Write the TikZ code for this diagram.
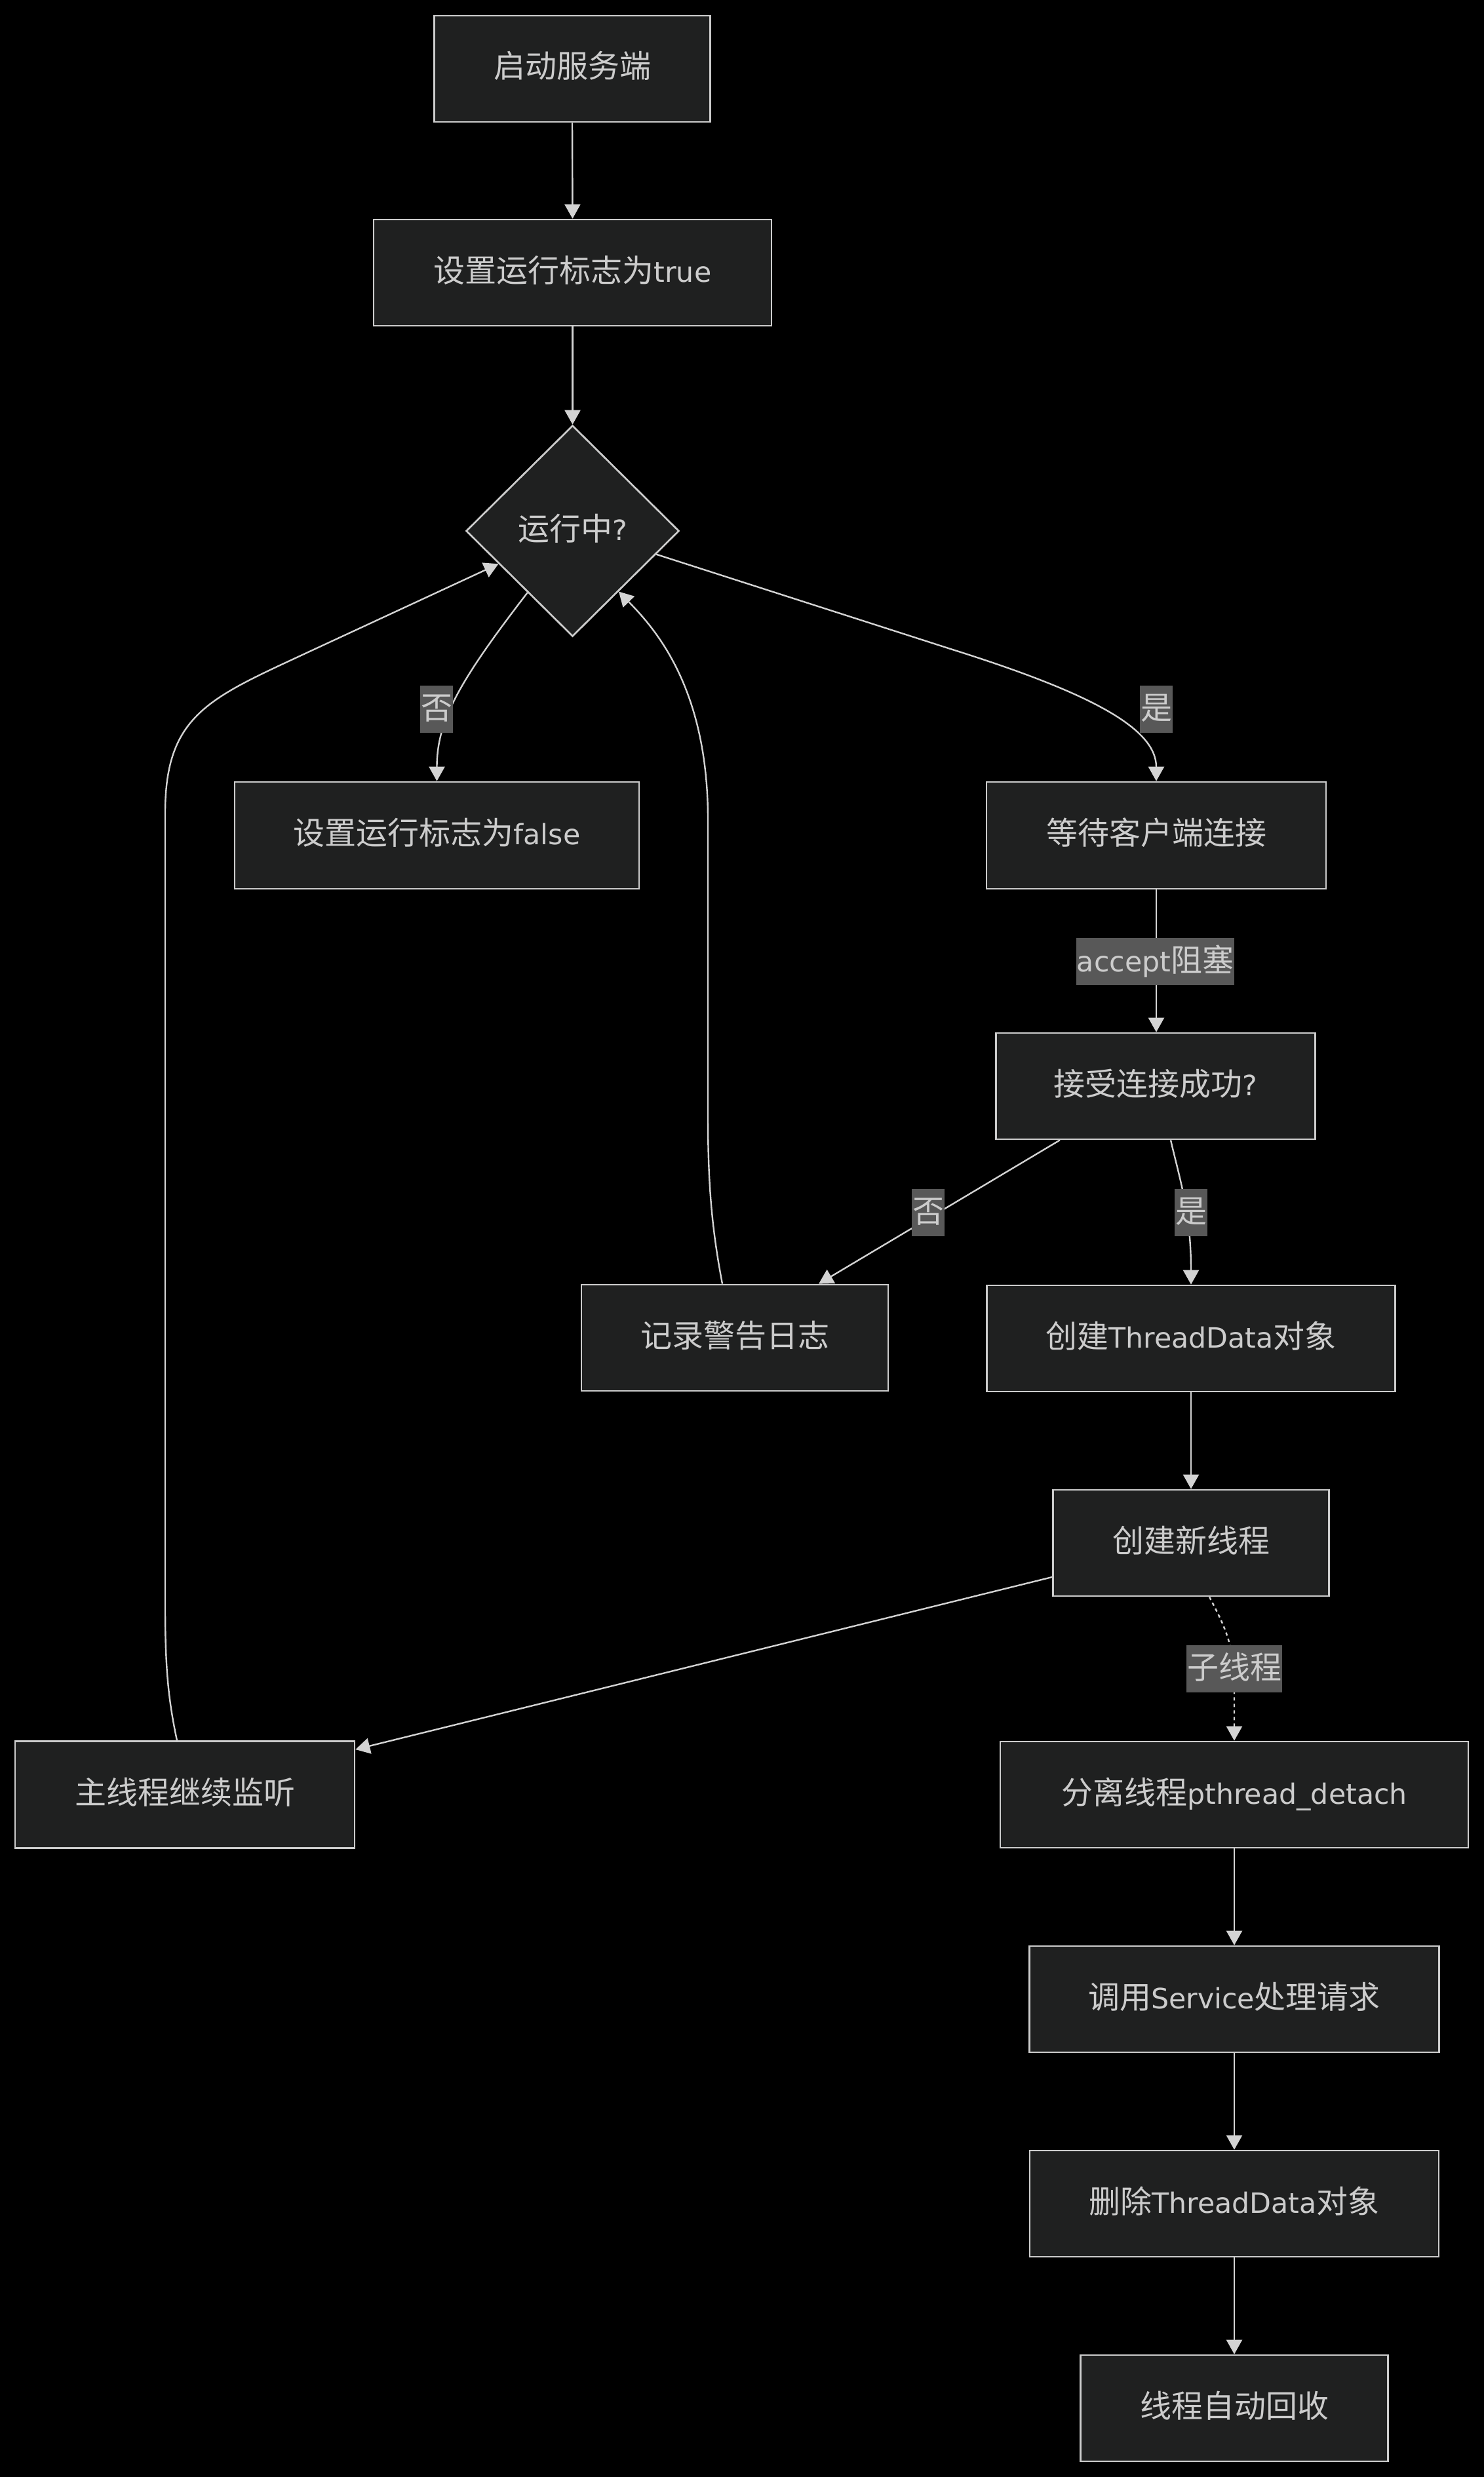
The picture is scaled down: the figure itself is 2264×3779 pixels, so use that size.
\documentclass[tikz,border=0pt]{standalone}
\usepackage{fontspec}
\setmainfont{DejaVu Sans}[Scale=0.89]
\newfontfamily\cjk{Noto Sans CJK SC}
\usetikzlibrary{shapes.geometric,arrows.meta,calc}
\definecolor{nodefill}{HTML}{1F2020}
\definecolor{nodeborder}{HTML}{CCCCCC}
\definecolor{txtc}{HTML}{CCCCCC}
\definecolor{lblbg}{HTML}{585858}
\definecolor{edgec}{HTML}{D3D3D3}
\begin{document}
\begin{tikzpicture}[x=1pt,y=-1pt,font=\fontsize{48}{58}\selectfont,
  box/.style={draw=nodeborder, fill=nodefill, line width=2.7pt, text=txtc,
    minimum height=162pt, inner sep=0pt, text height=30pt, text depth=2pt},
  dec/.style={diamond, draw=nodeborder, fill=nodefill, line width=2.7pt, text=txtc,
    minimum width=325pt, minimum height=322pt, inner sep=0pt, aspect=1,
    text height=30pt, text depth=2pt},
  lbl/.style={fill=lblbg, text=txtc, inner xsep=1pt, inner ysep=0pt,
    minimum height=72pt, text height=33pt, text depth=2pt},
  flow/.style={draw=edgec, line width=2.4pt, -{Triangle[length=22pt,width=24pt]}},
  dotflow/.style={flow, dash pattern=on 5pt off 5pt}]
\useasboundingbox (0,0) rectangle (2264,3779);
\fill[black] (0,0) rectangle (2264,3779);

% nodes
\node[box, minimum width=421pt] (start) at (873,105) {\cjk 启动服务端};
\node[box, minimum width=607pt] (settrue) at (873.5,416) {{\cjk 设置运行标志为}true};
\node[dec] (dia) at (873.5,810) {{\cjk 运行中}?};
\node[box, minimum width=617pt, minimum height=163pt] (setfalse) at (666.5,1274.5) {{\cjk 设置运行标志为}false};
\node[box, minimum width=518pt, minimum height=163pt] (wait) at (1764,1274.5) {\cjk 等待客户端连接};
\node[box, minimum width=487pt] (acc) at (1763,1657) {{\cjk 接受连接成功}?};
\node[box, minimum width=468pt] (log) at (1121,2041) {\cjk 记录警告日志};
\node[box, minimum width=623pt] (ctd) at (1817,2042) {{\cjk 创建}ThreadData{\cjk 对象}};
\node[box, minimum width=421pt] (newth) at (1817,2354) {\cjk 创建新线程};
\node[box, minimum width=518pt, minimum height=163pt] (mainth) at (282,2738) {\cjk 主线程继续监听};
\node[box, minimum width=714pt] (detach) at (1883,2738) {{\cjk 分离线程}pthread\_detach};
\node[box, minimum width=625pt] (svc) at (1883,3050) {{\cjk 调用}Service{\cjk 处理请求}};
\node[box, minimum width=624pt] (del) at (1883,3362) {{\cjk 删除}ThreadData{\cjk 对象}};
\node[box, minimum width=469pt] (recyc) at (1883,3674) {\cjk 线程自动回收};

% edges
\draw[flow] (start.south) -- (settrue.north);
\draw[flow] (settrue.south) -- (dia.north);
\draw[flow] ($(dia.west)!0.58!(dia.south)$) .. controls (700,1040) and (666.5,1100) .. (setfalse.north);
\draw[flow] ($(dia.east)!0.22!(dia.south)$) -- (1450,990) .. controls (1660,1056) and (1764,1110) .. (wait.north);
\draw[flow] (wait.south) -- (acc.north -| wait.south);
\draw[flow] ([xshift=-146pt]acc.south) -- ([xshift=128pt]log.north);
\draw[flow] ([xshift=23pt]acc.south) .. controls (1800,1800) and (1817,1850) .. (ctd.north);
\draw[flow] ([xshift=-19pt]log.north) .. controls (1085,1870) and (1080,1800) .. (1080,1700)
  -- (1080,1250) .. controls (1080,1050) and (1000,960) .. ($(dia.east)!0.57!(dia.south)$);
\draw[flow] (ctd.south) -- (newth.north);
\draw[flow] ([yshift=-52pt]newth.west) -- ([yshift=69pt]mainth.east);
\draw[dotflow] ([xshift=28pt]newth.south) .. controls (1868,2480) and (1883,2510) .. (1883,2570) -- (detach.north);
\draw[flow] (detach.south) -- (svc.north);
\draw[flow] (svc.south) -- (del.north);
\draw[flow] (del.south) -- (recyc.north);
\draw[flow] ([xshift=-12pt]mainth.north) .. controls (256,2590) and (252,2540) .. (252,2450)
  -- (252,1240) .. controls (252,1090) and (320,1065) .. (470,995) -- ($(dia.west)!0.31!(dia.south)$);

% edge labels
\node[lbl] (lno1) at (666,1082) {\cjk 否};
\node[lbl] (lyes1) at (1764,1082) {\cjk 是};
\node[lbl] (lacc) at (1762.5,1466.5) {accept{\cjk 阻塞}};
\node[lbl] (lno2) at (1416,1850) {\cjk 否};
\node[lbl] (lyes2) at (1817,1850) {\cjk 是};
\node[lbl] (lsub) at (1883,2545.5) {\cjk 子线程};
\end{tikzpicture}
\end{document}
